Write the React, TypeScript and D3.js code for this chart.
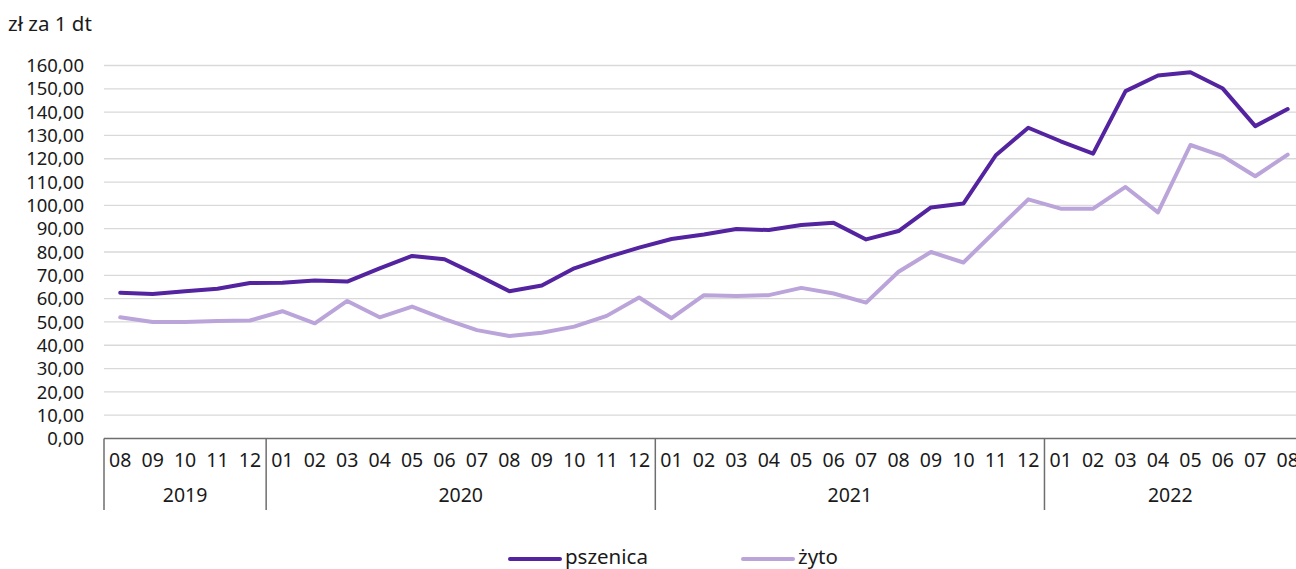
import React, { useEffect, useRef } from 'react';
import * as d3 from 'd3';

// miesiące 2019-08 .. 2022-08
const years = ['2019', '2020', '2021', '2022'];
const monthsPerYear = [
  ['08', '09', '10', '11', '12'],
  ['01', '02', '03', '04', '05', '06', '07', '08', '09', '10', '11', '12'],
  ['01', '02', '03', '04', '05', '06', '07', '08', '09', '10', '11', '12'],
  ['01', '02', '03', '04', '05', '06', '07', '08'],
];

const pszenica = [
  62.5, 62.0, 63.2, 64.2, 66.7,
  66.8, 67.8, 67.3, 73.0, 78.3, 76.9, 70.2, 63.2, 65.6, 73.0, 77.7, 81.9,
  85.6, 87.5, 89.9, 89.4, 91.6, 92.5, 85.4, 89.0, 99.1, 100.8, 121.5, 133.3,
  127.5, 122.2, 149.0, 155.7, 157.1, 150.1, 134.0, 141.3,
];

const zyto = [
  52.0, 50.0, 50.0, 50.4, 50.6,
  54.6, 49.4, 59.0, 52.0, 56.6, 51.2, 46.5, 44.0, 45.4, 48.0, 52.6, 60.5,
  51.6, 61.5, 61.1, 61.5, 64.6, 62.2, 58.3, 71.5, 80.0, 75.5, 89.1, 102.6,
  98.6, 98.6, 107.9, 97.0, 125.9, 121.1, 112.5, 121.8,
];

const yTicks = d3.range(0, 161, 10);

const seriesList = [
  { name: 'pszenica', values: pszenica, color: '#5323a0' },
  { name: 'żyto', values: zyto, color: '#baa4da' },
];

const W = 1296;
const H = 569;
const FONT = '"Noto Sans", "Open Sans", sans-serif';

const App = () => {
  const svgRef = useRef<SVGSVGElement>(null);

  useEffect(() => {
    const svg = d3.select(svgRef.current);
    svg.selectAll('*').remove();

    const months: string[] = [];
    monthsPerYear.forEach((ms, yi) => ms.forEach(m => months.push(years[yi] + '-' + m)));

    const bandW = 32.43;
    const left = 104;
    const x = d3.scaleBand<string>()
      .domain(months)
      .range([left, left + bandW * months.length]);

    const y = d3.scaleLinear().domain([0, 160]).range([438.5, 65.5]);

    // siatka
    svg.append('g')
      .selectAll('line')
      .data(yTicks.filter(t => t > 0))
      .enter()
      .append('line')
      .attr('x1', left)
      .attr('x2', W)
      .attr('y1', d => y(d))
      .attr('y2', d => y(d))
      .attr('stroke', '#d9d9d9')
      .attr('stroke-width', 1.3);

    // etykiety osi Y
    svg.append('g')
      .selectAll('text')
      .data(yTicks)
      .enter()
      .append('text')
      .attr('x', 84)
      .attr('y', d => y(d))
      .attr('dy', '0.36em')
      .attr('text-anchor', 'end')
      .attr('font-family', FONT)
      .attr('font-size', 18.5)
      .attr('fill', '#1a1a1a')
      .text(d => d3.format('.2f')(d).replace('.', ','));

    // jednostka
    svg.append('text')
      .attr('x', 8)
      .attr('y', 31)
      .attr('font-family', FONT)
      .attr('font-size', 20.5)
      .attr('fill', '#1a1a1a')
      .text('zł za 1 dt');

    // oś X
    svg.append('line')
      .attr('x1', left)
      .attr('x2', W)
      .attr('y1', y(0))
      .attr('y2', y(0))
      .attr('stroke', '#6e6e6e')
      .attr('stroke-width', 1.5);

    // separatory lat
    let idx = 0;
    const bounds: number[] = [0];
    monthsPerYear.forEach(ms => { idx += ms.length; bounds.push(idx); });
    svg.append('g')
      .selectAll('line')
      .data(bounds.slice(0, bounds.length - 1))
      .enter()
      .append('line')
      .attr('x1', d => (x(months[d]) as number))
      .attr('x2', d => (x(months[d]) as number))
      .attr('y1', y(0))
      .attr('y2', 510)
      .attr('stroke', '#6e6e6e')
      .attr('stroke-width', 1.5);

    // miesiące
    svg.append('g')
      .selectAll('text')
      .data(months)
      .enter()
      .append('text')
      .attr('x', d => (x(d) as number) + x.bandwidth() / 2)
      .attr('y', 460)
      .attr('dy', '0.36em')
      .attr('text-anchor', 'middle')
      .attr('font-family', FONT)
      .attr('font-size', 19.5)
      .attr('fill', '#1a1a1a')
      .text(d => d.slice(5));

    // lata
    svg.append('g')
      .selectAll('text')
      .data(years)
      .enter()
      .append('text')
      .attr('x', (d, i) => {
        const a = x(months[bounds[i]]) as number;
        const b = (x(months[bounds[i + 1] - 1]) as number) + x.bandwidth();
        return (a + Math.min(b, W)) / 2;
      })
      .attr('y', 495)
      .attr('dy', '0.36em')
      .attr('text-anchor', 'middle')
      .attr('font-family', FONT)
      .attr('font-size', 19.5)
      .attr('fill', '#1a1a1a')
      .text(d => d);

    // linie
    const line = d3.line<number>()
      .x((d, i) => (x(months[i]) as number) + x.bandwidth() / 2)
      .y(d => y(d));

    svg.append('g')
      .selectAll('path')
      .data(seriesList.slice().reverse())
      .enter()
      .append('path')
      .attr('d', d => line(d.values))
      .attr('fill', 'none')
      .attr('stroke', d => d.color)
      .attr('stroke-width', 4)
      .attr('stroke-linejoin', 'round')
      .attr('stroke-linecap', 'round');

    // legenda
    const legendX = [510, 743];
    const lg = svg.append('g')
      .selectAll('g')
      .data(seriesList)
      .enter()
      .append('g')
      .attr('transform', (d, i) => `translate(${legendX[i]},557)`);
    lg.append('line')
      .attr('x1', 0)
      .attr('x2', 50)
      .attr('y1', 2)
      .attr('y2', 2)
      .attr('stroke', d => d.color)
      .attr('stroke-width', 4)
      .attr('stroke-linecap', 'round');
    lg.append('text')
      .attr('x', 55)
      .attr('dy', '0.36em')
      .attr('font-family', FONT)
      .attr('font-size', 20.5)
      .attr('fill', '#1a1a1a')
      .text(d => d.name);
  }, []);

  return (
    <div style={{ position: 'absolute', left: 0, top: 0 }}>
      <svg ref={svgRef} width={W} height={H}></svg>
    </div>
  );
};

export default App;
